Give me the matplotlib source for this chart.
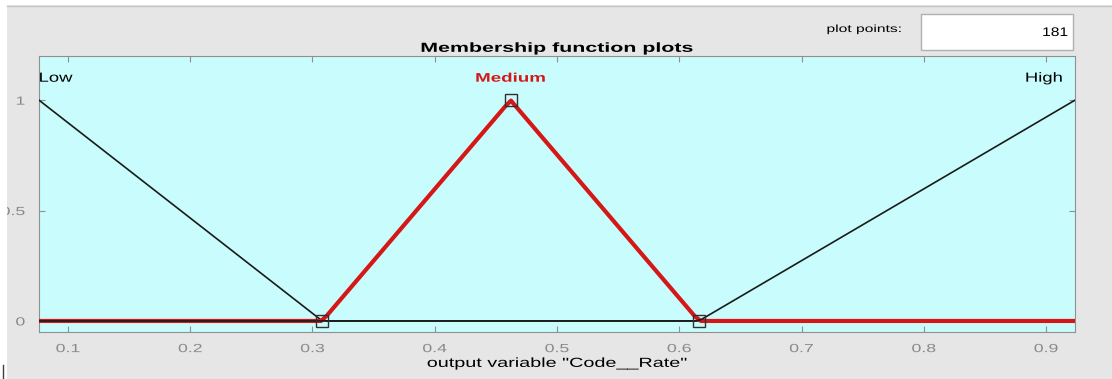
import numpy as np
import matplotlib
matplotlib.use("Agg")
import matplotlib.pyplot as plt
from matplotlib.patches import Rectangle
from matplotlib.patheffects import AbstractPathEffect
from matplotlib.transforms import Affine2D

plt.rcParams['font.family'] = ['Liberation Sans', 'DejaVu Sans']

# output variable range and triangular membership functions
x_range = [0.0763, 0.9237]
mf_names = ['Low', 'Medium', 'High']
mf_params = [[-0.1542, 0.0763, 0.308],
             [0.308, 0.462, 0.616],
             [0.616, 0.9237, 1.154]]
selected = 'Medium'
plot_points = 181
x_ticks = [0.1, 0.2, 0.3, 0.4, 0.5, 0.6, 0.7, 0.8, 0.9]
y_ticks = [0, 0.5, 1]
y_tick_labels = ['0', '0.5', '1']


class Widen(AbstractPathEffect):
    """Draw text glyphs stretched horizontally (the GUI font is wide)."""

    def __init__(self, sx=1.5, anchor='center'):
        super().__init__()
        self.sx = sx
        self.anchor = anchor

    def draw_path(self, renderer, gc, tpath, affine, rgbFace=None):
        ext = tpath.get_extents()
        cx = {'left': ext.x0, 'right': ext.x1}.get(self.anchor,
                                                    (ext.x0 + ext.x1) / 2)
        t = Affine2D().translate(-cx, 0).scale(self.sx, 1).translate(cx, 0)
        renderer.draw_path(gc, tpath, t + affine, rgbFace)


def trimf(x, a, b, c):
    left = (x - a) / (b - a)
    right = (c - x) / (c - b)
    return np.clip(np.minimum(left, right), 0, 1)


fig = plt.figure(figsize=(11.12, 3.79), dpi=100)
fig.patch.set_facecolor('#e6e6e6')
# white margin on the left/top of the panel
fig.patches.append(Rectangle((0, 0), 7 / 1112, 1, transform=fig.transFigure,
                             facecolor='white', edgecolor='none', zorder=10))
fig.patches.append(Rectangle((0, 1 - 5 / 379), 1, 5 / 379,
                             transform=fig.transFigure, facecolor='white',
                             edgecolor='none', zorder=10))
fig.lines.append(plt.Line2D([7 / 1112, 1], [1 - 5.5 / 379, 1 - 5.5 / 379],
                            transform=fig.transFigure, color='#c4c4c4',
                            lw=1, zorder=11))
fig.lines.append(plt.Line2D([3 / 1112, 3 / 1112], [0, 14 / 379],
                            transform=fig.transFigure, color='#404040',
                            lw=1, zorder=11))

ax = fig.add_axes([39 / 1112, 1 - 332 / 379, 1036 / 1112, 276 / 379])
ax.set_facecolor('#c9fcfc')

x = np.linspace(x_range[0], x_range[1], plot_points)
for i, (name, p) in enumerate(zip(mf_names, mf_params)):
    y = trimf(x, *p)
    if name == selected:
        ax.plot(x, y, color='#d41818', lw=3, zorder=3 + i)
        ax.plot([p[0], p[1], p[2]], [0, 1, 0], ls='none', marker='s',
                ms=9, mfc='none', mec='#303030', mew=1, zorder=8)
        ax.text(p[1], 1.07, name, color='#d41818', fontweight='bold',
                fontsize=9, ha='center', va='bottom',
                path_effects=[Widen(1.5)])
    else:
        ax.plot(x, y, color='#1a1a1a', lw=1.2, zorder=3 + i)
        if p[1] <= x_range[0]:
            ax.text(x_range[0], 1.07, name, fontsize=9.5, ha='left',
                    va='bottom', path_effects=[Widen(1.4, 'left')])
        else:
            ax.text(x_range[1] - 0.01, 1.07, name, fontsize=9.5,
                    ha='right', va='bottom', path_effects=[Widen(1.4, 'right')])

ax.set_xlim(x_range)
ax.set_ylim(-0.05, 1.2)
ax.set_xticks(x_ticks)
ax.set_xticklabels([str(t) for t in x_ticks], path_effects=[Widen(1.5)])
ax.set_yticks(y_ticks)
ax.set_yticklabels(y_tick_labels, path_effects=[Widen(1.5, 'right')])
ax.tick_params(direction='in', length=4, width=0.8, colors='#909090',
               labelcolor='#8a8a8a', labelsize=8.5, top=True, right=True)
ax.tick_params(axis='x', pad=8)
ax.tick_params(axis='y', pad=10)
for s in ax.spines.values():
    s.set_color('#909090')

ax.set_title('Membership function plots', fontweight='bold', fontsize=9.5,
             pad=3, path_effects=[Widen(1.62)])
ax.set_xlabel('output variable "Code__Rate"', fontsize=9.5, labelpad=2,
              path_effects=[Widen(1.5)])

fig.text(864 / 1112, 1 - 29 / 379, 'plot points:', fontsize=7.5,
         ha='center', va='center', path_effects=[Widen(1.5)])
fig.patches.append(Rectangle((921 / 1112, 1 - 50 / 379), 152 / 1112, 36 / 379,
                             transform=fig.transFigure, facecolor='white',
                             edgecolor='#b0b0b0', lw=1))
fig.text(1068 / 1112, 1 - 33 / 379, str(plot_points), fontsize=9,
         ha='right', va='center', path_effects=[Widen(1.25, 'right')])

fig.savefig('out.png', dpi=100)
